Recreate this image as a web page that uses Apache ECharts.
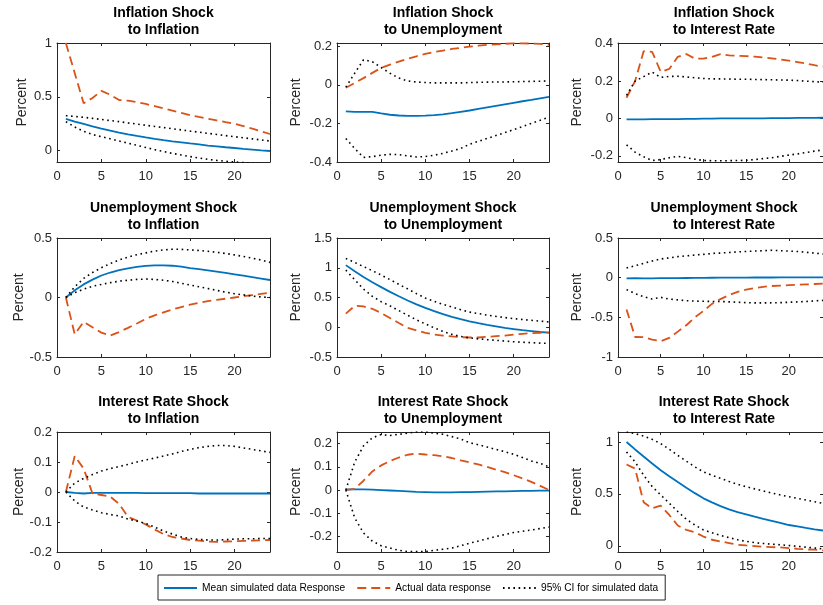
<!DOCTYPE html>
<html>
<head>
<meta charset="utf-8">
<script src="https://cdn.jsdelivr.net/npm/echarts@6/dist/echarts.min.js"></script>
<style>
  html, body { margin: 0; padding: 0; background: #fff; }
  #chart { width: 823px; height: 605px; }
</style>
</head>
<body>
<div id="chart"></div>
<script>
// horizon (quarters) and axis ticks
const horizon = [1, 2, 3, 4, 5, 6, 7, 8, 9, 10, 11, 12, 13, 14, 15, 16, 17, 18, 19, 20, 21, 22, 23, 24]
const xTicks = [0, 5, 10, 15, 20]

const titles = [
  'Inflation Shock\nto Inflation', 'Inflation Shock\nto Unemployment', 'Inflation Shock\nto Interest Rate',
  'Unemployment Shock\nto Inflation', 'Unemployment Shock\nto Unemployment', 'Unemployment Shock\nto Interest Rate',
  'Interest Rate Shock\nto Inflation', 'Interest Rate Shock\nto Unemployment', 'Interest Rate Shock\nto Interest Rate'
]

// y ranges and tick labels per panel
const yRanges = [[-0.105, 1], [-0.4, 0.217], [-0.233, 0.404], [-0.5, 0.5], [-0.5, 1.5], [-1, 0.5], [-0.2, 0.2], [-0.267, 0.25], [-0.06, 1.096]]
const yTicks = [[0, 0.5, 1], [-0.4, -0.2, 0, 0.2], [-0.2, 0, 0.2, 0.4], [-0.5, 0, 0.5], [-0.5, 0, 0.5, 1, 1.5], [-1, -0.5, 0, 0.5], [-0.2, -0.1, 0, 0.1, 0.2], [-0.2, -0.1, 0, 0.1, 0.2], [0, 0.5, 1]]

// Inflation shock
const inflInflMean = [0.295, 0.27, 0.248, 0.226, 0.205, 0.186, 0.168, 0.152, 0.137, 0.123, 0.11, 0.098, 0.087, 0.077, 0.067, 0.058, 0.048, 0.04, 0.032, 0.025, 0.017, 0.01, 0.003, -0.003]
const inflInflActual = [1.0, 0.72, 0.44, 0.49, 0.555, 0.52, 0.47, 0.465, 0.452, 0.434, 0.414, 0.393, 0.372, 0.351, 0.33, 0.313, 0.297, 0.281, 0.265, 0.25, 0.228, 0.205, 0.18, 0.155]
const inflInflUpper = [0.325, 0.318, 0.31, 0.3, 0.29, 0.28, 0.27, 0.258, 0.247, 0.236, 0.225, 0.215, 0.204, 0.193, 0.182, 0.172, 0.161, 0.151, 0.14, 0.13, 0.12, 0.11, 0.1, 0.09]
const inflInflLower = [0.27, 0.22, 0.18, 0.15, 0.13, 0.11, 0.09, 0.07, 0.05, 0.03, 0.01, -0.008, -0.025, -0.04, -0.055, -0.068, -0.08, -0.09, -0.098, -0.105, -0.11, -0.115, -0.12, -0.125]

const inflUnempMean = [-0.137, -0.14, -0.14, -0.14, -0.148, -0.155, -0.159, -0.161, -0.161, -0.16, -0.157, -0.153, -0.147, -0.14, -0.133, -0.125, -0.117, -0.109, -0.101, -0.093, -0.085, -0.078, -0.07, -0.062]
const inflUnempActual = [-0.015, 0.01, 0.035, 0.062, 0.088, 0.105, 0.12, 0.135, 0.148, 0.16, 0.17, 0.178, 0.186, 0.192, 0.198, 0.203, 0.207, 0.21, 0.213, 0.215, 0.215, 0.214, 0.212, 0.208]
const inflUnempUpper = [-0.012, 0.06, 0.13, 0.12, 0.09, 0.06, 0.035, 0.02, 0.015, 0.012, 0.01, 0.01, 0.01, 0.01, 0.012, 0.013, 0.014, 0.015, 0.015, 0.016, 0.017, 0.018, 0.019, 0.02]
const inflUnempLower = [-0.278, -0.33, -0.376, -0.372, -0.365, -0.36, -0.362, -0.368, -0.374, -0.372, -0.365, -0.355, -0.343, -0.33, -0.308, -0.293, -0.278, -0.263, -0.248, -0.232, -0.216, -0.2, -0.184, -0.167]

const inflRateMean = [-0.005, -0.005, -0.005, -0.004, -0.004, -0.003, -0.003, -0.002, -0.002, -0.001, -0.001, 0, 0, 0, 0.001, 0.001, 0.001, 0.002, 0.002, 0.002, 0.003, 0.003, 0.003, 0.004]
const inflRateActual = [0.111, 0.2, 0.36, 0.357, 0.25, 0.265, 0.33, 0.345, 0.32, 0.32, 0.33, 0.345, 0.338, 0.335, 0.334, 0.331, 0.327, 0.322, 0.316, 0.31, 0.302, 0.294, 0.285, 0.277]
const inflRateUpper = [0.124, 0.2, 0.224, 0.248, 0.22, 0.225, 0.226, 0.222, 0.218, 0.214, 0.212, 0.212, 0.211, 0.21, 0.21, 0.209, 0.208, 0.207, 0.206, 0.205, 0.203, 0.2, 0.197, 0.194]
const inflRateLower = [-0.141, -0.18, -0.205, -0.225, -0.22, -0.21, -0.203, -0.21, -0.218, -0.225, -0.226, -0.226, -0.226, -0.225, -0.224, -0.22, -0.215, -0.21, -0.203, -0.196, -0.19, -0.182, -0.175, -0.168]

// Unemployment shock
const unempInflMean = [0, 0.06, 0.11, 0.15, 0.185, 0.21, 0.23, 0.245, 0.257, 0.265, 0.27, 0.27, 0.267, 0.26, 0.247, 0.238, 0.228, 0.218, 0.207, 0.195, 0.183, 0.171, 0.159, 0.147]
const unempInflActual = [0, -0.31, -0.204, -0.25, -0.295, -0.32, -0.29, -0.255, -0.218, -0.18, -0.15, -0.125, -0.1, -0.08, -0.06, -0.045, -0.03, -0.02, -0.01, 0.0, 0.01, 0.02, 0.03, 0.04]
const unempInflUpper = [0, 0.09, 0.16, 0.21, 0.25, 0.285, 0.315, 0.34, 0.36, 0.375, 0.39, 0.4, 0.405, 0.405, 0.4, 0.395, 0.388, 0.38, 0.37, 0.358, 0.345, 0.33, 0.315, 0.295]
const unempInflLower = [0, 0.04, 0.07, 0.095, 0.11, 0.125, 0.137, 0.145, 0.152, 0.155, 0.152, 0.145, 0.135, 0.12, 0.105, 0.09, 0.075, 0.06, 0.045, 0.032, 0.022, 0.012, 0.005, 0.0]

const unempUnempMean = [1.044, 0.94, 0.845, 0.755, 0.675, 0.595, 0.52, 0.45, 0.385, 0.325, 0.27, 0.22, 0.175, 0.135, 0.1, 0.068, 0.04, 0.015, -0.01, -0.03, -0.05, -0.065, -0.08, -0.09]
const unempUnempActual = [0.228, 0.36, 0.35, 0.31, 0.24, 0.155, 0.072, -0.01, -0.055, -0.094, -0.122, -0.14, -0.155, -0.167, -0.172, -0.172, -0.16, -0.15, -0.14, -0.122, -0.11, -0.1, -0.094, -0.09]
const unempUnempUpper = [1.156, 1.09, 1.02, 0.95, 0.878, 0.8, 0.72, 0.645, 0.565, 0.49, 0.435, 0.385, 0.34, 0.295, 0.255, 0.23, 0.205, 0.183, 0.163, 0.144, 0.13, 0.117, 0.103, 0.089]
const unempUnempLower = [0.96, 0.8, 0.64, 0.52, 0.43, 0.36, 0.28, 0.2, 0.125, 0.056, -0.01, -0.07, -0.12, -0.155, -0.178, -0.195, -0.208, -0.22, -0.232, -0.244, -0.252, -0.26, -0.266, -0.272]

const unempRateMean = [-0.01, -0.005, -0.008, -0.008, -0.007, -0.006, -0.005, -0.004, -0.003, -0.002, -0.001, 0, 0, 0.001, 0.001, 0.002, 0.002, 0.002, 0.003, 0.003, 0.003, 0.004, 0.004, 0.004]
const unempRateActual = [-0.4, -0.748, -0.75, -0.78, -0.8, -0.76, -0.68, -0.6, -0.5, -0.42, -0.33, -0.27, -0.22, -0.18, -0.15, -0.13, -0.115, -0.105, -0.1, -0.095, -0.09, -0.085, -0.08, -0.076]
const unempRateUpper = [0.122, 0.15, 0.18, 0.21, 0.235, 0.25, 0.265, 0.275, 0.285, 0.294, 0.305, 0.31, 0.318, 0.325, 0.33, 0.335, 0.34, 0.345, 0.34, 0.335, 0.33, 0.32, 0.31, 0.298]
const unempRateLower = [-0.151, -0.2, -0.24, -0.27, -0.248, -0.27, -0.28, -0.29, -0.295, -0.298, -0.3, -0.3, -0.305, -0.31, -0.315, -0.318, -0.318, -0.317, -0.315, -0.31, -0.305, -0.3, -0.293, -0.286]

// Interest rate shock
const rateInflMean = [0, -0.003, -0.005, -0.003, -0.003, -0.003, -0.003, -0.003, -0.003, -0.004, -0.004, -0.004, -0.004, -0.004, -0.004, -0.005, -0.005, -0.005, -0.005, -0.005, -0.005, -0.005, -0.005, -0.005]
const rateInflActual = [0, 0.12, 0.078, -0.005, -0.01, -0.015, -0.04, -0.083, -0.095, -0.108, -0.125, -0.14, -0.15, -0.155, -0.16, -0.162, -0.165, -0.166, -0.165, -0.164, -0.163, -0.162, -0.161, -0.16]
const rateInflUpper = [0, 0.03, 0.045, 0.058, 0.07, 0.078, 0.085, 0.092, 0.1, 0.107, 0.113, 0.12, 0.127, 0.135, 0.142, 0.148, 0.152, 0.155, 0.155, 0.152, 0.147, 0.142, 0.137, 0.132]
const rateInflLower = [0, -0.03, -0.05, -0.06, -0.069, -0.075, -0.08, -0.09, -0.097, -0.105, -0.117, -0.13, -0.14, -0.15, -0.155, -0.158, -0.16, -0.16, -0.159, -0.157, -0.156, -0.156, -0.155, -0.155]

const rateUnempMean = [0.003, 0.003, 0.003, 0.002, 0.0, -0.002, -0.004, -0.006, -0.008, -0.009, -0.01, -0.01, -0.01, -0.009, -0.009, -0.008, -0.007, -0.006, -0.006, -0.005, -0.004, -0.004, -0.003, -0.003]
const rateUnempActual = [0, 0.005, 0.04, 0.08, 0.106, 0.125, 0.14, 0.152, 0.157, 0.153, 0.15, 0.145, 0.138, 0.128, 0.119, 0.11, 0.1, 0.088, 0.077, 0.064, 0.05, 0.035, 0.018, 0.0]
const rateUnempUpper = [0, 0.12, 0.19, 0.225, 0.239, 0.235, 0.24, 0.245, 0.25, 0.25, 0.245, 0.24, 0.23, 0.22, 0.204, 0.195, 0.185, 0.175, 0.165, 0.154, 0.14, 0.125, 0.115, 0.1]
const rateUnempLower = [0, -0.12, -0.185, -0.22, -0.24, -0.25, -0.26, -0.265, -0.265, -0.265, -0.26, -0.255, -0.25, -0.24, -0.229, -0.22, -0.21, -0.2, -0.192, -0.183, -0.178, -0.172, -0.166, -0.16]

const rateRateMean = [1.0, 0.928, 0.86, 0.793, 0.728, 0.67, 0.614, 0.56, 0.507, 0.457, 0.418, 0.382, 0.35, 0.325, 0.303, 0.281, 0.26, 0.24, 0.22, 0.2, 0.186, 0.172, 0.159, 0.147]
const rateRateActual = [0.783, 0.744, 0.419, 0.361, 0.387, 0.297, 0.195, 0.153, 0.131, 0.089, 0.058, 0.042, 0.026, 0.01, 0.003, -0.003, -0.01, -0.013, -0.016, -0.022, -0.029, -0.035, -0.038, -0.045]
const rateRateUpper = [1.096, 1.08, 1.057, 1.025, 0.984, 0.93, 0.87, 0.815, 0.76, 0.712, 0.68, 0.65, 0.62, 0.593, 0.569, 0.548, 0.528, 0.508, 0.49, 0.473, 0.457, 0.441, 0.425, 0.409]
const rateRateLower = [0.904, 0.808, 0.68, 0.57, 0.49, 0.41, 0.33, 0.255, 0.2, 0.153, 0.125, 0.1, 0.078, 0.058, 0.042, 0.03, 0.022, 0.016, 0.009, 0.003, -0.005, -0.013, -0.021, -0.03]

const meanSeries = [inflInflMean, inflUnempMean, inflRateMean, unempInflMean, unempUnempMean, unempRateMean, rateInflMean, rateUnempMean, rateRateMean]
const actualSeries = [inflInflActual, inflUnempActual, inflRateActual, unempInflActual, unempUnempActual, unempRateActual, rateInflActual, rateUnempActual, rateRateActual]
const upperSeries = [inflInflUpper, inflUnempUpper, inflRateUpper, unempInflUpper, unempUnempUpper, unempRateUpper, rateInflUpper, rateUnempUpper, rateRateUpper]
const lowerSeries = [inflInflLower, inflUnempLower, inflRateLower, unempInflLower, unempUnempLower, unempRateLower, rateInflLower, rateUnempLower, rateRateLower]

const legendNames = ['Mean simulated data Response', 'Actual data response', '95% CI for simulated data']

// layout
const font = 'Liberation Sans, Arial, Helvetica, sans-serif'
const ink = '#262626'
const colLeft = [57, 337, 618]
const colWidth = [213, 212, 212]
const rowTop = [43, 238, 432]
const rowHeight = [119, 119, 120]
const titleTop = [5, 200, 394]
const nameGap = [28, 34, 34]

const fmt = (v) => String(Math.round(v * 1000) / 1000)
const pairs = (ys) => horizon.map((h, i) => [h, ys[i]])

const grids = []
const xAxes = []
const yAxes = []
const series = []
const graphics = []

for (let k = 0; k < 9; k++) {
  const row = Math.floor(k / 3)
  const col = k % 3
  grids.push({ left: colLeft[col], top: rowTop[row], width: colWidth[col], height: rowHeight[row], show: false })

  const xBase = {
    gridIndex: k, type: 'value', min: 0, max: 24,
    axisLine: { show: true, onZero: false, lineStyle: { color: ink, width: 1 } },
    axisTick: { show: true, inside: true, length: 3, customValues: xTicks, lineStyle: { color: ink } },
    splitLine: { show: false }
  }
  xAxes.push({ ...xBase, position: 'bottom',
    axisLabel: { customValues: xTicks, color: ink, fontSize: 13, fontFamily: font, margin: 8, formatter: fmt } })
  xAxes.push({ ...xBase, position: 'top', axisLabel: { show: false } })

  const yBase = {
    gridIndex: k, type: 'value', min: yRanges[k][0], max: yRanges[k][1],
    axisLine: { show: true, onZero: false, lineStyle: { color: ink, width: 1 } },
    axisTick: { show: true, inside: true, length: 3, customValues: yTicks[k], lineStyle: { color: ink } },
    splitLine: { show: false }
  }
  yAxes.push({ ...yBase, position: 'left',
    name: 'Percent', nameLocation: 'middle', nameGap: nameGap[col],
    nameTextStyle: { color: ink, fontSize: 14, fontFamily: font },
    axisLabel: { customValues: yTicks[k], color: ink, fontSize: 13, fontFamily: font, margin: 5, formatter: fmt } })
  yAxes.push({ ...yBase, position: 'right', axisLabel: { show: false } })

  const common = { type: 'line', xAxisIndex: 2 * k, yAxisIndex: 2 * k, symbol: 'none', silent: true, clip: true }
  series.push({ ...common, name: legendNames[0], data: pairs(meanSeries[k]),
    lineStyle: { color: '#0072BD', width: 1.8 }, itemStyle: { color: '#0072BD' } })
  series.push({ ...common, name: legendNames[1], data: pairs(actualSeries[k]),
    lineStyle: { color: '#D95319', width: 1.8, type: [9, 5] }, itemStyle: { color: '#D95319' } })
  series.push({ ...common, name: legendNames[2], data: pairs(upperSeries[k]),
    lineStyle: { color: '#000', width: 1.6, type: [1.6, 3.6] }, itemStyle: { color: '#000' } })
  series.push({ ...common, name: legendNames[2], data: pairs(lowerSeries[k]),
    lineStyle: { color: '#000', width: 1.6, type: [1.6, 3.6] }, itemStyle: { color: '#000' } })

  graphics.push({
    type: 'text', x: colLeft[col] + colWidth[col] / 2, y: titleTop[row], silent: true,
    style: { text: titles[k], align: 'center', verticalAlign: 'top', fill: '#000',
      fontSize: 14, fontWeight: 'bold', fontFamily: font, lineHeight: 17 }
  })
}

const chart = echarts.init(document.getElementById('chart'), null, { renderer: 'canvas' })
chart.setOption({
  animation: false,
  backgroundColor: '#fff',
  grid: grids,
  xAxis: xAxes,
  yAxis: yAxes,
  series: series,
  graphic: graphics,
  legend: {
    data: legendNames,
    left: 158, top: 575,
    padding: [8, 7, 7, 5],
    itemWidth: 33, itemHeight: 10, itemGap: 11,
    itemStyle: { color: 'rgba(0,0,0,0)', borderWidth: 0 },
    borderColor: ink, borderWidth: 1, backgroundColor: '#fff',
    textStyle: { color: '#000', fontSize: 10.2, fontFamily: font },
    selectedMode: false
  }
})
</script>
</body>
</html>
